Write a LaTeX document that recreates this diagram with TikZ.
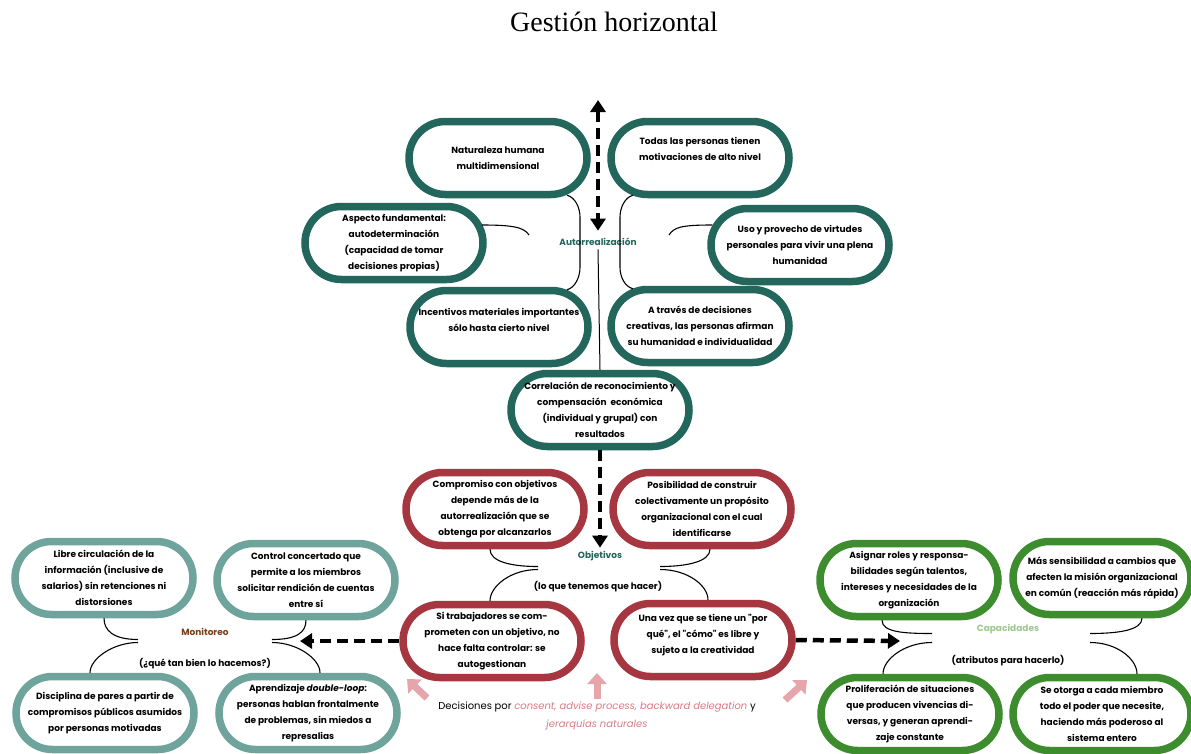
\documentclass[tikz,border=0pt]{standalone}
\usepackage{fontspec}
\setmainfont{Poppins}[Ligatures=TeXOff]
\newfontfamily\titlefont{Liberation Serif}
\usetikzlibrary{arrows.meta,shapes.misc}
\definecolor{darkteal}{RGB}{34,102,92}
\definecolor{wine}{RGB}{166,55,64}
\definecolor{paleteal}{RGB}{110,164,155}
\definecolor{leafgreen}{RGB}{61,140,46}
\definecolor{rosepink}{RGB}{230,165,170}
\definecolor{roseword}{RGB}{214,122,132}
\definecolor{rust}{RGB}{120,60,25}
\definecolor{mint}{RGB}{155,200,140}

\begin{document}
\begin{tikzpicture}[x=1pt,y=-1pt,
    pill/.style={draw, fill=white, line width=7.5pt, rounded rectangle,
      minimum width=178pt, minimum height=73pt, inner sep=0pt, align=center,
      font=\fontsize{9}{16}\selectfont\bfseries},
    self/.style={pill, draw=darkteal},
    goal/.style={pill, draw=wine},
    watch/.style={pill, draw=paleteal},
    skill/.style={pill, draw=leafgreen},
    tag/.style={font=\fontsize{9}{10}\selectfont\bfseries},
    note/.style={font=\fontsize{9}{10}\selectfont\bfseries},
    link/.style={line width=1.1pt},
    bigarrow/.style={line width=4.5pt, dash pattern=on 11pt off 6pt,
      -{Triangle[width=15pt,length=12pt]}},
    nudge/.style={rosepink, line width=7pt, -{Triangle[width=19pt,length=11pt]}}]
\useasboundingbox (0,0) rectangle (1191,753);
\clip (0,0) rectangle (1191,753);

\node (title) at (614,22) {\titlefont\fontsize{28}{32}\selectfont Gestión horizontal};

% autorrealizacion
\node [self] (natur)   at (498,158) {Naturaleza humana\\multidimensional};
\node [self, text depth=18pt] (todas) at (700,158) {Todas las personas tienen\\motivaciones de alto nivel};
\node [self] (aspecto) at (394,243) {Aspecto fundamental:\\autodeterminación\\(capacidad de tomar\\decisiones propias)};
\node [self] (uso)     at (800,245) {Uso y provecho de virtudes\\personales para vivir una plena\\humanidad};
\node [self, text depth=14pt] (incent) at (499,327) {Incentivos materiales importantes\\sólo hasta cierto nivel};
\node [self] (traves)  at (700,326) {A través de decisiones\\creativas, las personas afirman\\su humanidad e individualidad};
\node [self] (correl)  at (600,410) {Correlación de reconocimiento y\\compensación\ \ económica\\(individual y grupal) con\\resultados};
\node [tag, text=darkteal] (autorr) at (598,242) {Autorrealización};

% objetivos
\node [goal] (compro) at (495,509) {Compromiso con objetivos\\depende más de la\\autorrealización que se\\obtenga por alcanzarlos};
\node [goal] (posib)  at (702,509) {Posibilidad de construir\\colectivamente un propósito\\organizacional con el cual\\identificarse};
\node [goal] (sitrab) at (492,641) {Si trabajadores se com-\\prometen con un objetivo, no\\hace falta controlar: se\\autogestionan};
\node [goal, text depth=12pt] (unavez) at (703,640) {Una vez que se tiene un "por\\qué", el "cómo" es libre y\\sujeto a la creatividad};
\node [tag, text=darkteal] (objet) at (600,556) {Objetivos};
\node [note] (lohacer) at (598,587) {(lo que tenemos que hacer)};

% monitoreo
\node [watch] (libre)   at (104,578) {Libre circulación de la\\información (inclusive de\\salarios) sin retenciones ni\\distorsiones};
\node [watch] (control) at (306,580) {Control concertado que\\permite a los miembros\\solicitar rendición de cuentas\\entre sí};
\node [watch] (discip)  at (105,713) {Disciplina de pares a partir de\\compromisos públicos asumidos\\por personas motivadas};
\node [watch] (aprend)  at (308,713) {Aprendizaje \textit{double-loop}:\\personas hablan frontalmente\\de problemas, sin miedos a\\represalias};
\node [tag, text=rust] (monit) at (205,632) {Monitoreo};
\node [note] (quetan) at (205,664) {(¿qué tan bien lo hacemos?)};

% capacidades
\node [skill] (asignar)  at (909,580)  {Asignar roles y responsa-\\bilidades según talentos,\\intereses y necesidades de la\\organización};
\node [skill] (massens)  at (1102,578) {Más sensibilidad a cambios que\\afecten la misión organizacional\\en común (reacción más rápida)};
\node [skill] (prolif)   at (910,714)  {Proliferación de situaciones\\que producen vivencias di-\\versas, y generan aprendi-\\zaje constante};
\node [skill] (seotorga) at (1102,714) {Se otorga a cada miembro\\todo el poder que necesite,\\haciendo más poderoso al\\sistema entero};
\node [tag, text=mint] (capac) at (1008,629) {Capacidades};
\node [note] (atrib) at (1008,661) {(atributos para hacerlo)};

\node [align=center, font=\fontsize{10}{18}\selectfont] (decide) at (597,716)
  {Decisiones por \textcolor{roseword}{\itshape consent, advise process, backward delegation} y\\
   \textcolor{roseword}{\itshape jerarquías naturales}};

% free ends
\coordinate (topend) at (598,100);
\coordinate (aspend) at (529,235);
\coordinate (usoend) at (669,235);
\coordinate (objl) at (538,568);
\coordinate (objr) at (660,568);
\coordinate (monl) at (138,641);
\coordinate (monr) at (272,641);
\coordinate (capl) at (932,638);
\coordinate (capr) at (1090,638);
\coordinate (monarrow) at (300,641);
\coordinate (caparrow) at (900,641);
\coordinate (pinkl) at (427,698);
\coordinate (pinkm) at (597,699);
\coordinate (pinkr) at (785,700);

% flechas
\draw [bigarrow, {Triangle[width=15pt,length=12pt]}-{Triangle[width=15pt,length=12pt]}] (topend) -- ([yshift=4pt]autorr.north);
\draw [line width=1pt] (autorr.south) -- (correl.north);
\draw [bigarrow] (correl.south) -- (objet.north);
\draw [bigarrow] (sitrab.west) -- (monarrow);
\draw [bigarrow] (unavez.east) -- (caparrow);
\draw [nudge] (pinkl) -- ++(-20,-19);
\draw [nudge] (pinkm) -- ++(0,-26);
\draw [nudge] (pinkr) -- ++(22,-20);

% llaves
\draw [link] ([xshift=69pt,yshift=3pt]natur.south) .. controls +(8,2) and +(0,-10) .. ++(13,22) -- ++(0,50) .. controls +(0,10) and +(8,-2) .. ([xshift=68pt,yshift=-3pt]incent.north);
\draw [link] ([xshift=-67pt,yshift=3pt]todas.south) .. controls +(-8,2) and +(0,-10) .. ++(-13,22) -- ++(0,50) .. controls +(0,10) and +(-8,-2) .. ([xshift=-67pt,yshift=-3pt]traves.north);
\draw [link] ([xshift=-5pt,yshift=18pt]aspecto.east) .. controls +(30,0) and +(-5,-8) .. (aspend);
\draw [link] ([xshift=5pt,yshift=20pt]uso.west) .. controls +(-30,0) and +(5,-8) .. (usoend);

\draw [link] ([xshift=-5pt]compro.south) .. controls +(0,12) and +(-28,0) .. ([yshift=1.5pt]objl);
\draw [link] ([yshift=-1.5pt]objl) .. controls +(-28,0) and +(0,-14) .. ([xshift=-2pt]sitrab.north);
\draw [link] ([xshift=8pt]posib.south) .. controls +(0,12) and +(28,0) .. ([yshift=1.5pt]objr);
\draw [link] ([yshift=-1.5pt]objr) .. controls +(28,0) and +(0,-14) .. ([xshift=5pt]unavez.north);

\draw [link] (libre.south) .. controls +(0,12) and +(-25,0) .. ([yshift=1.5pt]monl);
\draw [link] ([yshift=-1.5pt]monl) .. controls +(-25,0) and +(0,-14) .. ([xshift=-15pt]discip.north);
\draw [link] (control.south) .. controls +(0,12) and +(25,0) .. ([yshift=1.5pt]monr);
\draw [link] ([yshift=-1.5pt]monr) .. controls +(25,0) and +(0,-14) .. ([xshift=12pt]aprend.north);

\draw [link] ([xshift=-27pt]asignar.south) .. controls +(0,12) and +(-28,0) .. ([yshift=4.5pt]capl);
\draw [link] ([yshift=-4.5pt]capl) .. controls +(-28,0) and +(0,-14) .. ([xshift=-27pt]prolif.north);
\draw [link] ([xshift=40pt]massens.south) .. controls +(0,12) and +(28,0) .. ([yshift=4.5pt]capr);
\draw [link] ([yshift=-4.5pt]capr) .. controls +(28,0) and +(0,-14) .. ([xshift=35pt]seotorga.north);
\end{tikzpicture}
\end{document}
